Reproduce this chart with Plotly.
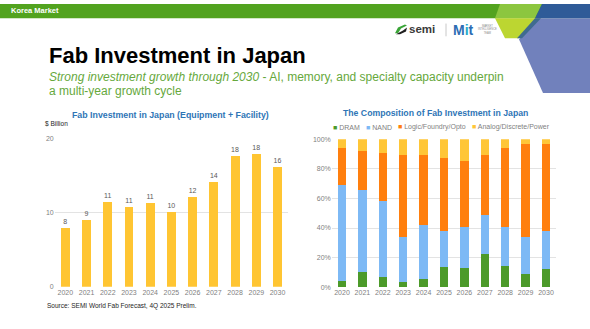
import plotly.graph_objects as go

W, H = 590, 329

# ---- data ----
years = ["2020", "2021", "2022", "2023", "2024", "2025", "2026", "2027", "2028", "2029", "2030"]
fab_investment = [8.0, 9.0, 11.4, 10.8, 11.3, 10.1, 12.2, 14.2, 17.7, 17.9, 16.2]  # $ Billion

dram = [4.4, 10.1, 6.6, 3.5, 5.5, 13.4, 13.0, 22.7, 14.1, 8.8, 12.1]
nand = [64.7, 55.7, 51.4, 30.7, 36.6, 24.7, 27.4, 25.8, 26.9, 25.0, 26.0]
logic = [24.9, 26.0, 32.5, 55.4, 47.5, 49.5, 45.2, 41.1, 53.4, 62.9, 58.6]
analog = [6.0, 8.2, 9.5, 10.4, 10.4, 12.4, 14.4, 10.4, 5.6, 3.3, 3.3]

segment_names = ["DRAM", "NAND", "Logic/Foundry/Opto", "Analog/Discrete/Power"]
segment_values = [dram, nand, logic, analog]
segment_colors = ["#4c9a2a", "#7db9f5", "#ff7f0e", "#ffc637"]

share_ticks = [0, 20, 40, 60, 80, 100]
share_labels = [f"{t}%" for t in share_ticks]

FONT = "Liberation Sans, Arial, sans-serif"
TICK = "#7f7f7f"
GRID = "#e3e3e3"


def px_x(x):
    return x / W


def px_y(y):
    return 1 - y / H


fig = go.Figure()

# left: total fab investment
fig.add_trace(go.Bar(
    x=years, y=fab_investment, xaxis="x", yaxis="y",
    marker=dict(color="#ffc532", line=dict(width=0)), width=0.42,
    text=[f"{v:.0f}" for v in fab_investment], textposition="outside",
    textfont=dict(size=7, color="#595959", family=FONT),
    cliponaxis=False, showlegend=False, hoverinfo="x+y",
))

# right: composition by device segment
for name, vals, col in zip(segment_names, segment_values, segment_colors):
    fig.add_trace(go.Bar(
        x=years, y=vals, name=name, xaxis="x2", yaxis="y2",
        marker=dict(color=col, line=dict(width=0)), width=0.42,
        showlegend=False,
    ))

axis_common = dict(showline=False, zeroline=False, ticks="",
                   tickfont=dict(size=7, color=TICK, family=FONT))

fig.update_layout(
    width=W, height=H,
    margin=dict(l=0, r=0, t=0, b=0),
    paper_bgcolor="white", plot_bgcolor="white",
    barmode="stack", bargap=0.58,
    font=dict(family=FONT),
    xaxis=dict(domain=[px_x(54.7), px_x(288.1)], anchor="y", type="category",
               showgrid=False, **axis_common),
    yaxis=dict(domain=[px_y(289), px_y(137.7)], anchor="x", range=[0, 20],
               tickvals=[0, 10, 20], showgrid=True, gridcolor=GRID, gridwidth=1,
               **axis_common),
    xaxis2=dict(domain=[px_x(331.8), px_x(556.2)], anchor="y2", type="category",
                showgrid=False, **axis_common),
    yaxis2=dict(domain=[px_y(289.3), px_y(138.3)], anchor="x2", range=[0, 100],
                tickmode="array", tickvals=share_ticks, ticktext=share_labels,
                showgrid=True, gridcolor=GRID, gridwidth=1, **axis_common),
)

shapes = []
# header band and corner graphics
shapes.append(dict(type="rect", xref="paper", yref="paper", x0=0, x1=1,
                   y0=px_y(14.5), y1=1, fillcolor="#52a31f", line=dict(width=0),
                   layer="below"))


def poly(points, color):
    d = "M " + " L ".join(f"{px_x(x):.5f},{px_y(y):.5f}" for x, y in points) + " Z"
    return dict(type="path", xref="paper", yref="paper", path=d,
                fillcolor=color, line=dict(width=0), layer="below")


shapes.append(poly([(500, 0), (542, 0), (535, 14.5), (495, 14.5)], "#8cc63f"))
shapes.append(poly([(495, 14.5), (537, 14.5), (519, 35), (505, 35)], "#bcd631"))
shapes.append(poly([(542, 0), (590, 0), (590, 14.5), (535, 14.5)], "#2f5b98"))
shapes.append(poly([(537, 14.5), (590, 14.5), (590, 91), (543, 91), (519, 36)], "#7181bc"))
shapes.append(poly([(535, 14.5), (541, 14.5), (522, 35), (517, 35)], "#3f6b8f"))

# logo swoosh
shapes.append(poly([(395, 30), (398, 24), (405, 21), (407, 22), (401, 25), (398, 30)], "#3aa537"))
shapes.append(poly([(396, 31), (403, 27), (407, 24), (406, 28), (400, 31)], "#1f1f1f"))
# logo separator
shapes.append(dict(type="line", xref="paper", yref="paper", x0=px_x(446), x1=px_x(446),
                   y0=px_y(20), y1=px_y(33), line=dict(color="#c8c8c8", width=1)))
fig.update_layout(shapes=shapes)

ann = []


def text(x, y, s, size, color="#000000", xanchor="left", bold=False, **kw):
    if bold:
        s = f"<b>{s}</b>"
    ann.append(dict(x=px_x(x), y=px_y(y), xref="paper", yref="paper", text=s,
                    showarrow=False, xanchor=xanchor, yanchor="middle",
                    font=dict(size=size, color=color, family=FONT), **kw))


text(9, 7, "Korea Market", 7.5, "#ffffff", bold=True)
text(407, 26, "semi", 11.5, "#3a3a3a", bold=True)
text(451, 26.5, "M<span style='color:#25a9c9'>i</span>t", 14, "#2d6db3", bold=True)
text(476, 26.5, "MARKET<br>INTELLIGENCE<br>TEAM", 2.6, "#8a8a8a")

text(47, 53, "Fab Investment in Japan", 22, "#000000", bold=True)
text(47, 75, "<i>Strong investment growth through 2030</i> - AI, memory, and specialty capacity underpin",
     12, "#66a83c")
text(47, 89, "a multi-year growth cycle", 12, "#66a83c")

text(170, 113, "Fab Investment in Japan (Equipment + Facility)", 8.8, "#2e75b6",
     xanchor="center", bold=True)
text(43, 122, "$ Billion", 6.5, "#262626")

text(435, 111, "The Composition of Fab Investment in Japan", 8.7, "#2e75b6",
     xanchor="center", bold=True)
legend_x = [331, 364, 396, 470]
for lx, name, col in zip(legend_x, segment_names, segment_colors):
    text(lx, 126, f"<span style='color:{col}'>■</span> {name}", 7, "#7f7f7f")

text(45, 309, "Source: SEMI World Fab Forecast, 4Q 2025 Prelim.", 6.5, "#262626")

fig.update_layout(annotations=ann)

fig.write_html("out.html")
